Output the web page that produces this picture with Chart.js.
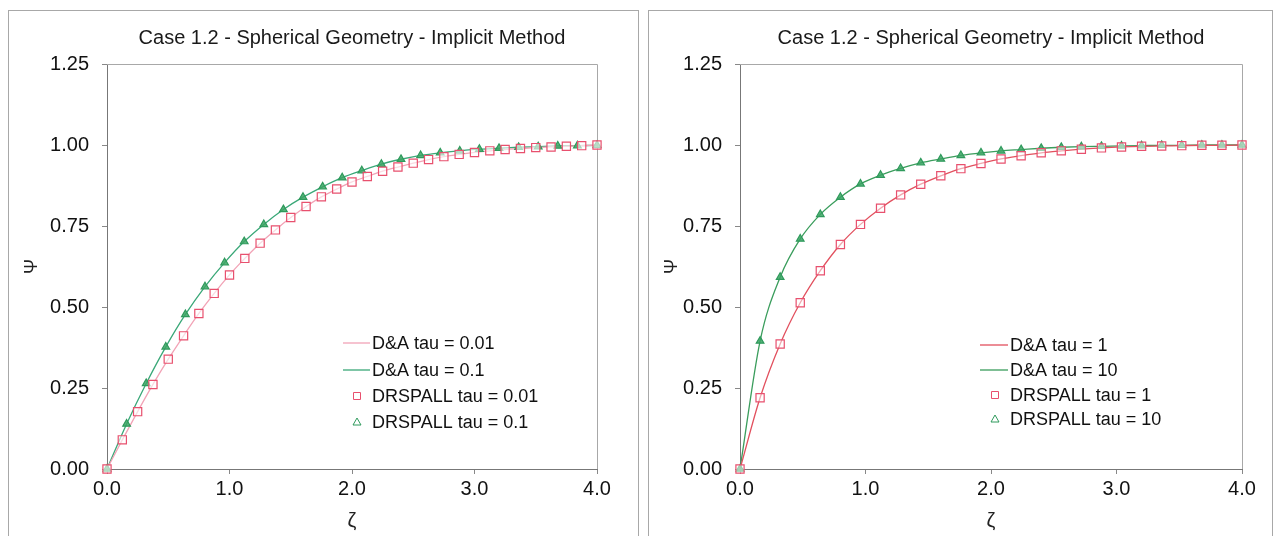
<!DOCTYPE html>
<html><head><meta charset="utf-8">
<script src="https://cdn.jsdelivr.net/npm/chart.js@4/dist/chart.umd.min.js"></script>
<style>
html,body{margin:0;padding:0;background:#fff;width:1278px;height:536px;overflow:hidden;}
.panel{position:absolute;top:10px;height:540px;border:1px solid #a8a8a8;box-sizing:border-box;background:#fff;}
#p1{left:8px;width:631px;}
#p2{left:648px;width:625px;}
canvas{display:block;}
</style></head><body>
<div class="panel" id="p1"><canvas id="c1" width="629" height="530"></canvas></div>
<div class="panel" id="p2"><canvas id="c2" width="623" height="530"></canvas></div>
<script>
// ---- data ----
const titleText = 'Case 1.2 - Spherical Geometry - Implicit Method';
const yTicks = [0, 0.25, 0.5, 0.75, 1.0, 1.25];
const xTicks = [0, 1, 2, 3, 4];

const zetaFine = [0, 0.125, 0.25, 0.375, 0.5, 0.625, 0.75, 0.875, 1, 1.125, 1.25, 1.375, 1.5, 1.625, 1.75, 1.875, 2, 2.125, 2.25, 2.375, 2.5, 2.625, 2.75, 2.875, 3, 3.125, 3.25, 3.375, 3.5, 3.625, 3.75, 3.875, 4];
const zetaCoarse = [0, 0.16, 0.32, 0.48, 0.64, 0.8, 0.96, 1.12, 1.28, 1.44, 1.6, 1.76, 1.92, 2.08, 2.24, 2.4, 2.56, 2.72, 2.88, 3.04, 3.2, 3.36, 3.52, 3.68, 3.84, 4];

// left panel
const psiTau001 = [0, 0.090, 0.177, 0.261, 0.339, 0.411, 0.480, 0.542, 0.599, 0.650, 0.697, 0.738, 0.776, 0.810, 0.840, 0.864, 0.886, 0.903, 0.919, 0.932, 0.944, 0.955, 0.964, 0.971, 0.977, 0.982, 0.986, 0.989, 0.992, 0.994, 0.996, 0.998, 1.000];
const psiTau01 = [0, 0.139, 0.264, 0.377, 0.477, 0.563, 0.637, 0.702, 0.755, 0.801, 0.839, 0.871, 0.899, 0.921, 0.941, 0.956, 0.968, 0.976, 0.982, 0.987, 0.990, 0.993, 0.995, 0.997, 0.998, 0.999];
// right panel
const psiTau1 = [0, 0.220, 0.386, 0.513, 0.612, 0.693, 0.755, 0.805, 0.846, 0.879, 0.905, 0.927, 0.943, 0.957, 0.967, 0.976, 0.982, 0.987, 0.991, 0.994, 0.996, 0.997, 0.998, 0.999, 0.999, 1.000];
const psiTau10 = [0, 0.395, 0.592, 0.710, 0.786, 0.839, 0.880, 0.907, 0.928, 0.945, 0.957, 0.968, 0.976, 0.982, 0.986, 0.990, 0.993, 0.995, 0.996, 0.997, 0.998, 0.999, 0.999, 1.000, 1.000, 1.000];

const leftLabels = ['D&A tau = 0.01', 'D&A tau = 0.1', 'DRSPALL tau = 0.01', 'DRSPALL tau = 0.1'];
const rightLabels = ['D&A tau = 1', 'D&A tau = 10', 'DRSPALL tau = 1', 'DRSPALL tau = 10'];

// ---- helpers ----
const pts = (xs, ys) => xs.map((x, i) => ({x: x, y: ys[i]}));
const FONT = '"Liberation Sans", Arial, sans-serif';

function lineDs(label, xs, ys, color) {
  return {label, data: pts(xs, ys), showLine: true, borderColor: color, borderWidth: 1.3,
    pointRadius: 0, cubicInterpolationMode: 'monotone', clip: false, order: 2};
}
function markDs(label, xs, ys, style, color, fill, r) {
  return {label, data: pts(xs, ys), showLine: false, pointStyle: style, pointRadius: r,
    pointBorderColor: color, pointBackgroundColor: fill, pointBorderWidth: 1.2, clip: false, order: 1,
    borderColor: color, backgroundColor: fill};
}

const framePlugin = {
  id: 'frame',
  beforeDatasetsDraw(chart) {
    const {ctx, chartArea: a} = chart;
    ctx.save();
    ctx.strokeStyle = '#a8a8a8'; ctx.lineWidth = 1;
    ctx.beginPath();
    ctx.moveTo(a.left, Math.round(a.top) + 0.5);
    ctx.lineTo(Math.round(a.right) + 0.5, Math.round(a.top) + 0.5);
    ctx.lineTo(Math.round(a.right) + 0.5, a.bottom);
    ctx.stroke();
    ctx.restore();
  }
};

const legendPlugin = {
  id: 'boxLegend',
  afterDraw(chart, args, opts) {
    const ctx = chart.ctx;
    ctx.save();
    ctx.font = '18px ' + FONT;
    ctx.textBaseline = 'middle';
    ctx.fillStyle = '#111';
    chart.data.datasets.forEach((ds, i) => {
      const y = opts.rows[i];
      if (ds.showLine) {
        ctx.strokeStyle = ds.borderColor; ctx.lineWidth = 1.3;
        ctx.beginPath(); ctx.moveTo(opts.lineX0, y); ctx.lineTo(opts.lineX1, y); ctx.stroke();
      } else {
        ctx.strokeStyle = ds.pointBorderColor; ctx.lineWidth = 1;
        const cx = opts.markX;
        ctx.beginPath();
        if (ds.pointStyle === 'rect') {
          ctx.rect(cx - 3.5, y - 3.5, 7, 7);
        } else {
          ctx.moveTo(cx, y - 4); ctx.lineTo(cx + 4, y + 3); ctx.lineTo(cx - 4, y + 3); ctx.closePath();
        }
        ctx.stroke();
      }
      ctx.fillStyle = '#111';
      ctx.fillText(ds.label, opts.textX, y + 1);
    });
    ctx.restore();
  }
};

function makeChart(id, datasets, yWidth, padRight, legendOpts) {
  return new Chart(document.getElementById(id), {
    type: 'scatter',
    data: {datasets},
    options: {
      responsive: false, animation: false, devicePixelRatio: 1,
      layout: {padding: {left: 0, right: padRight, top: 0, bottom: 0}},
      plugins: {
        legend: {display: false}, tooltip: {enabled: false},
        title: {display: true, text: titleText, fullSize: false, color: '#1a1a1a',
          font: {family: FONT, size: 20, weight: 'normal'}, padding: {top: 15, bottom: 14}},
        boxLegend: legendOpts
      },
      scales: {
        x: {
          type: 'linear', min: xTicks[0], max: xTicks[xTicks.length - 1],
          afterBuildTicks: s => { s.ticks = xTicks.map(v => ({value: v})); },
          afterFit: s => { s.height = 72; },
          grid: {display: true, drawOnChartArea: false, tickLength: 5, color: '#888'},
          border: {display: true, color: '#777', width: 1},
          ticks: {color: '#111', font: {family: FONT, size: 20}, padding: 3,
            maxRotation: 0, autoSkip: false, callback: v => Number(v).toFixed(1)},
          title: {display: true, text: 'ζ', color: '#222', font: {family: FONT, size: 20},
            padding: {top: 0, bottom: 8}}
        },
        y: {
          type: 'linear', min: yTicks[0], max: yTicks[yTicks.length - 1],
          afterBuildTicks: s => { s.ticks = yTicks.map(v => ({value: v})); },
          afterFit: s => { s.width = yWidth; },
          grid: {display: true, drawOnChartArea: false, tickLength: 5, color: '#888'},
          border: {display: true, color: '#777', width: 1},
          ticks: {color: '#111', font: {family: FONT, size: 20}, padding: 13,
            autoSkip: false, callback: v => Number(v).toFixed(2)},
          title: {display: true, text: 'Ψ', color: '#222', font: {family: FONT, size: 18},
            padding: {top: 12, bottom: 0}}
        }
      }
    },
    plugins: [framePlugin, legendPlugin]
  });
}

makeChart('c1', [
  lineDs(leftLabels[0], zetaFine, psiTau001, '#f2a3b6'),
  lineDs(leftLabels[1], zetaCoarse, psiTau01, '#3aa878'),
  markDs(leftLabels[2], zetaFine, psiTau001, 'rect', '#e8506e', 'rgba(255,255,255,0.6)', 5.8),
  markDs(leftLabels[3], zetaCoarse, psiTau01, 'triangle', '#2f9a5c', 'rgba(60,165,100,0.85)', 4.4)
], 98, 41, {lineX0: 334, lineX1: 361, markX: 348, textX: 363, rows: [332, 359, 385, 411]});

makeChart('c2', [
  lineDs(rightLabels[0], zetaCoarse, psiTau1, '#e2505e'),
  lineDs(rightLabels[1], zetaCoarse, psiTau10, '#3a9d5c'),
  markDs(rightLabels[2], zetaCoarse, psiTau1, 'rect', '#e8506e', 'rgba(255,255,255,0.5)', 5.8),
  markDs(rightLabels[3], zetaCoarse, psiTau10, 'triangle', '#2f9a5c', 'rgba(60,165,100,0.85)', 4.4)
], 91, 30, {lineX0: 331, lineX1: 359, markX: 346, textX: 361, rows: [334, 359, 384, 408]});
</script>
</body></html>
